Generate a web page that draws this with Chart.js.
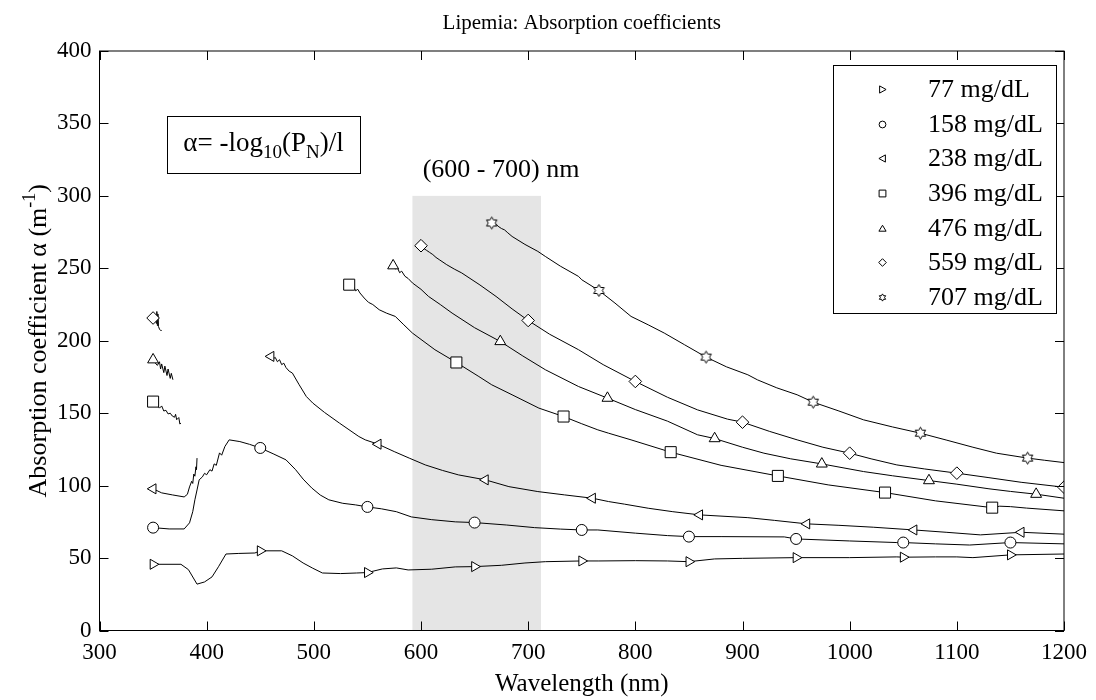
<!DOCTYPE html>
<html>
<head>
<meta charset="utf-8">
<title>Lipemia: Absorption coefficients</title>
<script src="https://cdn.jsdelivr.net/npm/chart.js@4.4.0/dist/chart.umd.min.js"></script>
<style>
  html, body { margin: 0; padding: 0; background: #fff; }
  #wrap { width: 1096px; height: 700px; position: relative; }
</style>
</head>
<body>
<div id="wrap"><canvas id="lipemiaChart" width="1096" height="700"></canvas></div>
<script>
// Axis ticks
const xTicks = [300, 400, 500, 600, 700, 800, 900, 1000, 1100, 1200];
const yTicks = [0, 50, 100, 150, 200, 250, 300, 350, 400];

// Shaded band (nm) and its height
const shadeRange = [592, 712];
const shadeTop = 300;

const legendLabels = ['77 mg/dL', '158 mg/dL', '238 mg/dL', '396 mg/dL', '476 mg/dL', '559 mg/dL', '707 mg/dL'];

// Curves: [wavelength, alpha]; null = gap in the curve
const s77 = [[350,45.7],[376,45.7],[383,42],[391,32],[398,33.5],[405,37],[411,44],[418,52.8],[430,53.2],[445,53.5],
  [450,55],[470,55],[480,51.5],[490,46.6],[499,43],[508,39.7],[525,39.3],[540,39.7],[550,40],[564,42.5],[577,43.2],
  [588,41.8],[610,42.3],[632,43.9],[650,44.1],[675,45],[697,46.6],[716,47.5],[750,48],[766,48],[800,48.2],[830,48],
  [850,47.5],[874,49.4],[900,49.8],[950,50.3],[1000,50.3],[1044,50.8],[1050,50.6],[1080,50.8],[1100,50.8],[1115,50.3],
  [1150,52.2],[1200,52.8]];
const s158 = [[350,71],[365,70.1],[379,70.1],[384,74.3],[387,82],[389,90.2],[391,97],[393,104],[396,106],[398,108.5],
  [400,107.5],[403,111],[405,110],[407,115],[409,114],[412,122.6],[414,121],[417,127],[421,131.6],[431,130.4],[440,128.5],
  [450,126],[462,122],[474,117.8],[483,111],[490,104.5],[498,98.4],[506,93.5],[514,90.2],[527,87.8],[539,86.7],[550,85.3],
  [563,84],[577,82],[591,78.4],[610,76.5],[632,75],[650,74.5],[680,72.8],[706,71],[730,70],[750,69.4],[765,69.4],
  [800,67.2],[830,65.5],[850,64.8],[880,64.8],[939,64.6],[950,63.2],[1000,61.8],[1044,60.7],[1050,60.7],[1080,59.8],
  [1112,59],[1150,60.7],[1200,59.8]];
const s238 = [[350,97.8],[358,95],[368,93.6],[379,92.2],[382,94],[384,99.1],[386,103],[387,101.5],[388,108],[389,106.5],
  [390,113],[390.5,111],[391,119], null,
  [460,189.2],[462,187.5],[464,188.5],[466,185.5],[468,186.9],[470,183.5],[472,184.5],[474,181.5],[477,179],[480,177.7],
  [486,170],[493,161.5],[499,157],[510,150.5],[524,143.1],[542,133.9],[548,131.6],[560,128.6],[575,123.5],[589,119],
  [604,114.3],[620,110.5],[635,107.4],[660,104],[682,99.3],[709,95.9],[734,93.6],[760,91.3],[775,89],[790,87.2],
  [812,84.4],[835,82],[860,79.8],[905,77.9],[930,76],[960,73.6],[990,72.6],[1022,71.3],[1060,69.4],[1090,67.8],
  [1122,66],[1160,67.8],[1200,66.5]];
const s396 = [[350,158],[353,155.8],[356,153.5],[358,155],[360,151.5],[362,152],[364,149.5],[366,150],[368,148],
  [370,147.2],[371,149.2],[372,145.5],[374,147],[375,142.5],[376,143.1], null,
  [533,238.7],[535,236.5],[537,237.5],[539,234.5],[541,235.5],[543,233],[547,229.5],[551,226.5],[555,225],[561,221.4],
  [568,219],[576,216.8],[584,211],[592,205.3],[613,193.8],[633,185],[654,175.3],[666,169.6],[685,162.7],[710,153.5],
  [733,147.7],[750,142.7],[765,138.5],[775,136.2],[796,131.6],[833,123.1],[880,114],[933,106.7],[980,100.5],
  [1033,95.2],[1080,89.5],[1133,84.8],[1140,85.8],[1150,85.5],[1165,84.5],[1200,82.6]];
const s476 = [[350,186.9],[352,184.6],[354,183],[356,185.5],[357,180.5],[358,184],[360,178],[361,182.5],[363,176],
  [364,180.5],[366,174],[367,177.5],[368.5,173.1], null,
  [574,251.8],[576,249.5],[578,250.5],[580,247],[582,248],[585,244.5],[588,243],[592,239.9],[600,235.5],[607,230.6],
  [618,225],[629,219.1],[650,209],[674,199.5],[695,189.5],[716,180],[747,168.4],[774,160.4],[800,152.5],[830,144.5],
  [858,135.1],[874,132.5],[900,126.5],[920,122.4],[945,118.5],[974,115],[1013,109.7],[1040,106.8],[1074,103.5],
  [1100,101],[1130,97.8],[1150,96],[1174,94.1],[1200,91.3]];
const s559 = [[350,215.7],[352,218],[353,212],[353.5,220.2],[354,210.5],[354.5,218.5],[355,209.9],[356,208],[357,207.1],
  [358,207.1], null,
  [600,265.6],[602,264],[605,262.5],[608,261],[611,259.5],[614,257.5],[617,256],[624,252.5],[631,249.5],[638,246.8],
  [655,238.5],[670,230.6],[685,222],[700,214],[720,204.5],[747,193.8],[770,183.5],[800,171.9],[830,161],[858,152.3],
  [886,145.9],[900,143.8],[925,137.5],[951,131.6],[975,126.5],[1000,122.4],[1020,118.5],[1044,114.3],[1070,111.5],
  [1100,108.6],[1130,105.5],[1160,102.3],[1200,98.9]];
const s707 = [[666,281.3],[668,279.5],[670,280.5],[672,279],[675,277.5],[678,276.5],[681,274.5],[685,272],[697,266.5],
  [709,261.7],[716,258.2],[730,251.5],[747,244.4],[750,242.1],[766,234.7],[781,226],[796,216.8],[812,211],[827,205.3],
  [846,197.2],[866,188.7],[885,182],[905,176.5],[914,173],[932,167.5],[951,162.7],[966,157.6],[990,151.5],[1013,145.4],
  [1040,140.5],[1066,136.2],[1090,131.5],[1115,126.5],[1137,122.4],[1166,119],[1182,117.5],[1200,115.9]];

// Wavelengths where a marker sits on each curve
const m77 = [350, 450, 550, 650, 750, 850, 950, 1050, 1150];
const m158 = [350, 450, 550, 650, 750, 850, 950, 1050, 1150];
const m238 = [350, 460, 560, 660, 760, 860, 960, 1060, 1160];
const m396 = [350, 533, 633, 733, 833, 933, 1033, 1133];
const m476 = [350, 574, 674, 774, 874, 974, 1074, 1174];
const m559 = [350, 600, 700, 800, 900, 1000, 1100, 1200];
const m707 = [666, 766, 866, 966, 1066, 1166];

const seriesList = [s77, s158, s238, s396, s476, s559, s707];
const markerList = [m77, m158, m238, m396, m476, m559, m707];
const markerKinds = ['right', 'circle', 'left', 'square', 'up', 'diamond', 'hex'];

const SERIF = "'Liberation Serif', 'Times New Roman', serif";

// Outline path of a MATLAB-like marker centred on (x, y)
function markerPath(g, kind, x, y, s) {
    g.beginPath();
    if (kind === 'circle') {
        g.arc(x, y, s, 0, Math.PI * 2);
        return;
    }
    let pts;
    if (kind === 'right') pts = [[-0.8 * s, -s], [s, 0], [-0.8 * s, s]];
    else if (kind === 'left') pts = [[0.8 * s, -s], [-s, 0], [0.8 * s, s]];
    else if (kind === 'square') pts = [[-s, -s], [s, -s], [s, s], [-s, s]];
    else if (kind === 'up') pts = [[-s, 0.75 * s], [0, -0.9 * s], [s, 0.75 * s]];
    else if (kind === 'diamond') pts = [[0, -s], [s, 0], [0, s], [-s, 0]];
    else {
        pts = [];
        for (let k = 0; k < 12; k++) {
            const r = k % 2 === 0 ? s : s / Math.sqrt(3);
            const a = -Math.PI / 2 + k * Math.PI / 6;
            pts.push([r * Math.cos(a), r * Math.sin(a)]);
        }
    }
    pts.forEach((p, i) => i ? g.lineTo(x + p[0], y + p[1]) : g.moveTo(x + p[0], y + p[1]));
    g.closePath();
}

// Hexagram has no built-in point style, so draw it on a small canvas
function makeHexagram(s) {
    const d = 2 * Math.ceil(s) + 3;
    const c = document.createElement('canvas');
    c.width = d;
    c.height = d;
    const g = c.getContext('2d');
    g.strokeStyle = '#000';
    g.fillStyle = '#fff';
    g.lineWidth = 1;
    markerPath(g, 'hex', d / 2, d / 2, s);
    g.fill();
    g.stroke();
    return c;
}

const pointStyles = ['triangle', 'circle', 'triangle', 'rect', 'triangle', 'rectRot', makeHexagram(6)];
const pointRotations = [90, 0, -90, 0, 0, 0, 0];
const pointRadii = [5.8, 5.5, 5.8, 7.8, 6.3, 6.3, 6];
const legendSizes = [3.6, 3.4, 3.6, 3.4, 3.6, 3.8, 3.6];

const toPoints = arr => arr.map((p, i) => p ? { x: p[0], y: p[1] } : { x: arr[i - 1][0] + 1, y: null });

const lineSets = seriesList.map((s, i) => ({
    label: legendLabels[i],
    data: toPoints(s),
    borderColor: '#000',
    borderWidth: 1,
    pointRadius: 0,
    tension: 0,
    fill: false,
    spanGaps: false,
    order: 2
}));

const markerSets = seriesList.map((s, i) => ({
    label: legendLabels[i],
    data: markerList[i].map(mx => {
        const p = s.find(q => q && q[0] === mx);
        return { x: p[0], y: p[1] };
    }),
    showLine: false,
    pointStyle: pointStyles[i],
    rotation: pointRotations[i],
    pointRadius: pointRadii[i],
    pointBorderColor: '#000',
    pointBackgroundColor: '#fff',
    pointBorderWidth: 1,
    order: 1
}));

// Frame, inward ticks, texts and legend
const decorations = {
    id: 'decorations',
    beforeDatasetsDraw(chart) {
        const ctx = chart.ctx;
        const x = chart.scales.x, y = chart.scales.y;
        const x0 = x.getPixelForValue(shadeRange[0]);
        const x1 = x.getPixelForValue(shadeRange[1]);
        const yt = y.getPixelForValue(shadeTop);
        const yb = y.getPixelForValue(0);
        ctx.save();
        ctx.fillStyle = '#e5e5e5';
        ctx.fillRect(x0, yt, x1 - x0, yb - yt);
        ctx.restore();
    },
    afterDraw(chart) {
        const ctx = chart.ctx;
        const a = chart.chartArea;
        const xs = chart.scales.x, ys = chart.scales.y;
        ctx.save();

        // axes box
        ctx.strokeStyle = '#000';
        ctx.lineWidth = 1;
        ctx.strokeRect(a.left, a.top, a.right - a.left, a.bottom - a.top);
        const tl = 9;
        ctx.beginPath();
        xTicks.forEach(v => {
            const px = Math.round(xs.getPixelForValue(v)) + 0.5;
            ctx.moveTo(px, a.bottom); ctx.lineTo(px, a.bottom - tl);
            ctx.moveTo(px, a.top); ctx.lineTo(px, a.top + tl);
        });
        yTicks.forEach(v => {
            const py = Math.round(ys.getPixelForValue(v)) + 0.5;
            ctx.moveTo(a.left, py); ctx.lineTo(a.left + tl, py);
            ctx.moveTo(a.right, py); ctx.lineTo(a.right - tl, py);
        });
        ctx.stroke();

        ctx.fillStyle = '#000';
        const cx = (a.left + a.right) / 2;

        // title
        ctx.font = '21px ' + SERIF;
        ctx.textAlign = 'center';
        ctx.textBaseline = 'middle';
        ctx.fillText('Lipemia: Absorption coefficients', cx, 23);

        // x title
        ctx.font = '25px ' + SERIF;
        ctx.fillText('Wavelength (nm)', cx, 684);

        // y title with superscript
        ctx.save();
        ctx.translate(38, (a.top + a.bottom) / 2);
        ctx.rotate(-Math.PI / 2);
        ctx.textAlign = 'left';
        ctx.textBaseline = 'alphabetic';
        const yMain = 'Absorption coefficient \u03b1 (m', ySup = '-1', yTail = ')';
        ctx.font = '26px ' + SERIF;
        const w1 = ctx.measureText(yMain).width, w3 = ctx.measureText(yTail).width;
        ctx.font = '18px ' + SERIF;
        const w2 = ctx.measureText(ySup).width;
        let tx = -(w1 + w2 + w3) / 2;
        ctx.font = '26px ' + SERIF;
        ctx.fillText(yMain, tx, 8); tx += w1;
        ctx.font = '18px ' + SERIF;
        ctx.fillText(ySup, tx, -3); tx += w2;
        ctx.font = '26px ' + SERIF;
        ctx.fillText(yTail, tx, 8);
        ctx.restore();

        // formula box
        const fb = { l: 167, t: 116, r: 360, b: 173 };
        ctx.fillStyle = '#fff';
        ctx.fillRect(fb.l, fb.t, fb.r - fb.l, fb.b - fb.t);
        ctx.strokeRect(fb.l + 0.5, fb.t + 0.5, fb.r - fb.l, fb.b - fb.t);
        ctx.fillStyle = '#000';
        const parts = [['\u03b1= -log', 27, 0], ['10', 19, 7], ['(P', 27, 0], ['N', 19, 7], [')/l', 27, 0]];
        let total = 0;
        parts.forEach(p => { ctx.font = p[1] + 'px ' + SERIF; p.push(ctx.measureText(p[0]).width); total += p[3]; });
        let fx = (fb.l + fb.r) / 2 - total / 2;
        ctx.textAlign = 'left';
        ctx.textBaseline = 'alphabetic';
        parts.forEach(p => {
            ctx.font = p[1] + 'px ' + SERIF;
            ctx.fillText(p[0], fx, 151 + p[2]);
            fx += p[3];
        });

        // band label
        ctx.font = '26px ' + SERIF;
        ctx.textAlign = 'center';
        ctx.fillText('(600 - 700) nm', 501, 177);

        // legend
        const lb = { l: 833, t: 65, r: 1056, b: 313 };
        ctx.fillStyle = '#fff';
        ctx.fillRect(lb.l, lb.t, lb.r - lb.l, lb.b - lb.t);
        ctx.strokeRect(lb.l + 0.5, lb.t + 0.5, lb.r - lb.l, lb.b - lb.t);
        ctx.font = '26px ' + SERIF;
        ctx.textAlign = 'left';
        ctx.textBaseline = 'middle';
        const step = (297 - 89) / (legendLabels.length - 1);
        legendLabels.forEach((lab, i) => {
            const ry = Math.round(89 + i * step);
            ctx.fillStyle = '#fff';
            markerPath(ctx, markerKinds[i], 882.5, ry + 0.5, legendSizes[i]);
            ctx.fill();
            ctx.stroke();
            ctx.fillStyle = '#000';
            ctx.fillText(lab, 928, ry + 1);
        });
        ctx.restore();
    }
};

function initAbsorptionChart() {
    const el = document.getElementById('lipemiaChart');
    return new Chart(el, {
        type: 'line',
        data: { datasets: markerSets.concat(lineSets) },
        options: {
            responsive: false,
            animation: false,
            devicePixelRatio: 1,
            layout: { padding: { left: 0, right: 30, top: 51, bottom: 0 } },
            plugins: {
                legend: { display: false },
                tooltip: { enabled: false },
                title: { display: false }
            },
            scales: {
                x: {
                    type: 'linear',
                    min: 300,
                    max: 1200,
                    afterBuildTicks: scale => { scale.ticks = xTicks.map(v => ({ value: v })); },
                    afterFit: scale => { scale.height = 69.5; },
                    grid: { display: false, drawTicks: false },
                    border: { display: false },
                    ticks: { color: '#000', padding: 9, maxRotation: 0, callback: v => String(v),
                             font: { family: SERIF, size: 23 } }
                },
                y: {
                    type: 'linear',
                    min: 0,
                    max: 400,
                    afterBuildTicks: scale => { scale.ticks = yTicks.map(v => ({ value: v })); },
                    afterFit: scale => { scale.width = 99.5; },
                    grid: { display: false, drawTicks: false },
                    border: { display: false },
                    ticks: { color: '#000', padding: 8, callback: v => String(v),
                             font: { family: SERIF, size: 23 } }
                }
            }
        },
        plugins: [decorations]
    });
}

initAbsorptionChart();
</script>
</body>
</html>
